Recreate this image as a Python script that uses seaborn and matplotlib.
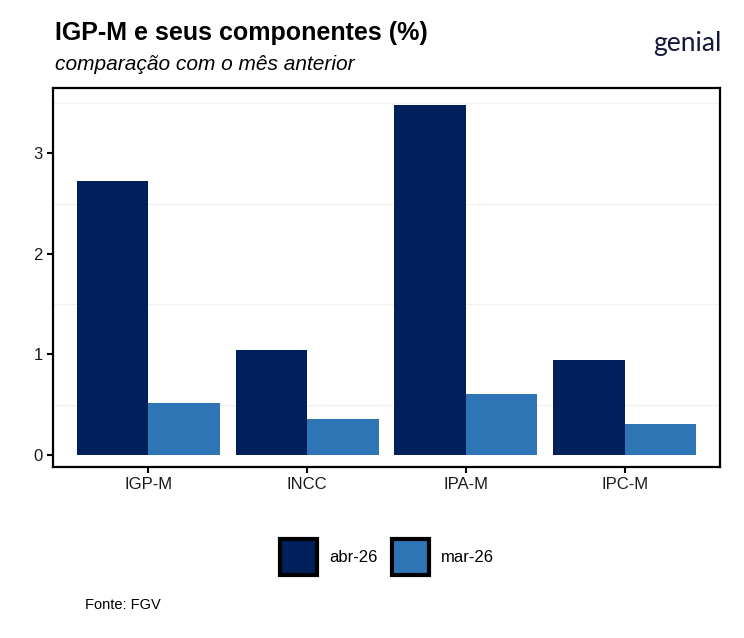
import numpy as np
import pandas as pd
import matplotlib
matplotlib.use("Agg")
import matplotlib.pyplot as plt
from matplotlib.patches import Patch
from matplotlib.ticker import MultipleLocator
import seaborn as sns

# dados
categorias = ["IGP-M", "INCC", "IPA-M", "IPC-M"]
abr_26 = [2.72, 1.04, 3.48, 0.94]
mar_26 = [0.52, 0.36, 0.61, 0.31]
series = ["abr-26", "mar-26"]
cores = ["#00205B", "#2E75B6"]

df = pd.DataFrame({
    "indice": categorias * 2,
    "valor": abr_26 + mar_26,
    "mes": [series[0]] * 4 + [series[1]] * 4,
})

sns.set_theme(style="white")
plt.rcParams["font.family"] = ["Liberation Sans", "DejaVu Sans"]
plt.rcParams["text.color"] = "black"

fig = plt.figure(figsize=(7.44, 6.38), dpi=100)
ax = fig.add_axes([53 / 744, 1 - 467 / 638, 667 / 744, 379 / 638])

sns.barplot(data=df, x="indice", y="valor", hue="mes", palette=cores,
            width=0.9, saturation=1, ax=ax, legend=False, linewidth=0)

ax.set_xlim(-0.6, 3.6)
ax.set_ylim(-0.12, 3.65)
ax.yaxis.set_major_locator(MultipleLocator(1))
ax.yaxis.set_minor_locator(MultipleLocator(0.5))
ax.grid(which="minor", axis="y", color="#f0f0f0", linewidth=0.8)
ax.set_axisbelow(True)
ax.set_xlabel("")
ax.set_ylabel("")
for s in ax.spines.values():
    s.set_color("black")
    s.set_linewidth(1.6)
ax.tick_params(axis="both", which="major", direction="out", length=4, width=1.5,
               color="black", labelsize=12, labelcolor="#1a1a1a", bottom=True, left=True)
ax.tick_params(axis="y", which="minor", length=0)

# textos
fig.text(55 / 744, 1 - 33 / 638, "IGP-M e seus componentes (%)", fontsize=18,
         fontweight="bold", va="center", ha="left", color="black")
fig.text(55 / 744, 1 - 65 / 638, "comparação com o mês anterior", fontsize=15,
         fontstyle="italic", va="center", ha="left", color="black")
fig.text(85 / 744, 1 - 605 / 638, "Fonte: FGV", fontsize=10.5, va="center", ha="left",
         color="black")
fig.text(721 / 744, 1 - 44 / 638, "genial", fontsize=19, color="#16173D",
         family=["Lato", "DejaVu Sans"], va="center", ha="right")

handles = [Patch(facecolor=c, edgecolor="black", linewidth=3, label=l)
           for c, l in zip(cores, series)]
fig.legend(handles=handles, loc="center", bbox_to_anchor=(387 / 744, 1 - 557 / 638),
           ncol=2, frameon=False, fontsize=12, handlelength=2.2, handleheight=3.0,
           handletextpad=0.7, columnspacing=0.9)

fig.savefig("out.png", dpi=100)
